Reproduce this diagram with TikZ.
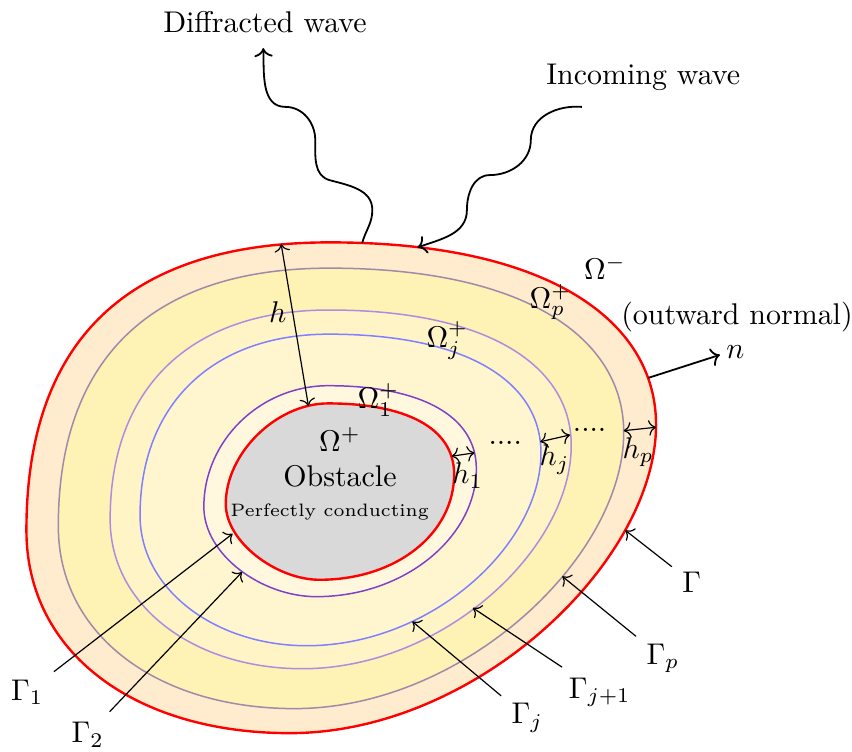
\documentclass[tikz,border=0pt]{standalone}
\usepackage{tikz}
\usetikzlibrary{arrows.meta,calc}
\definecolor{bandout}{HTML}{FFEBCD}
\definecolor{bandp}{HTML}{FFF2B5}
\definecolor{bandj}{HTML}{FFF4C6}
\definecolor{bandjj}{HTML}{FFF6D0}
\definecolor{bandone}{HTML}{FFF8DE}
\definecolor{linep}{HTML}{A08AA8}
\definecolor{linejj}{HTML}{B08CE0}
\definecolor{linej}{HTML}{8080FF}
\definecolor{linetwo}{HTML}{8040C8}
% closed curve through the 12 points #11 ... #112
\newcommand\ringpath[1]{(#11) .. controls (#12) and (#13) .. (#14)
  .. controls (#15) and (#16) .. (#17) .. controls (#18) and (#19) .. (#110)
  .. controls (#111) and (#112) .. cycle}
\begin{document}
\begin{tikzpicture}[
    bound/.style={draw=red, thick},
    layer/.style={line width=0.5pt},
    lab/.style={inner sep=1pt},
    arr/.style={->},
    dim/.style={<->},
    wave/.style={->, semithick}
  ]
  \useasboundingbox (0,0) rectangle (10,8.815);

  % outer boundary Gamma (o) and obstacle boundary Gamma_1 (i)
  \coordinate (o1) at (3.87,5.97);  \coordinate (i1) at (3.85,4.08);
  \coordinate (o2) at (6.47,5.97);  \coordinate (i2) at (4.75,4.08);
  \coordinate (o3) at (7.70,5.03);  \coordinate (i3) at (5.33,3.80);
  \coordinate (o4) at (7.70,3.83);  \coordinate (i4) at (5.33,3.25);
  \coordinate (o5) at (7.70,2.23);  \coordinate (i5) at (5.33,2.55);
  \coordinate (o6) at (5.60,0.21);  \coordinate (i6) at (4.65,2.01);
  \coordinate (o7) at (3.40,0.21);  \coordinate (i7) at (3.75,2.01);
  \coordinate (o8) at (1.60,0.21);  \coordinate (i8) at (3.25,2.01);
  \coordinate (o9) at (0.31,1.14);  \coordinate (i9) at (2.65,2.45);
  \coordinate (o10) at (0.31,2.59); \coordinate (i10) at (2.65,2.90);
  \coordinate (o11) at (0.31,4.79); \coordinate (i11) at (2.65,3.50);
  \coordinate (o12) at (1.47,5.97); \coordinate (i12) at (3.25,4.08);

  % the layers in between
  \foreach \n in {1,...,12} {
    \coordinate (p\n) at ($(o\n)!0.16!(i\n)$);
    \coordinate (k\n) at ($(o\n)!0.42!(i\n)$);
    \coordinate (j\n) at ($(o\n)!0.57!(i\n)$);
    \coordinate (s\n) at ($(o\n)!0.89!(i\n)$);
  }

  \draw[bound, fill=bandout] \ringpath{o};
  \draw[layer, draw=linep, fill=bandp] \ringpath{p};
  \draw[layer, draw=linejj, fill=bandj] \ringpath{k};
  \draw[layer, draw=linej, fill=bandjj] \ringpath{j};
  \draw[layer, draw=linetwo, fill=bandone] \ringpath{s};
  \draw[bound, fill=gray!30] \ringpath{i};

  % points on the curves
  \coordinate (tG)  at (7.34,2.59);
  \coordinate (tGp) at (6.60,2.05);
  \coordinate (tGk) at (5.55,1.68);
  \coordinate (tGj) at (4.84,1.52);
  \coordinate (tG2) at (2.84,2.10);
  \coordinate (tG1) at (2.73,2.55);
  \coordinate (nfoot) at (7.61,4.38);
  \coordinate (nhead) at (8.45,4.65);
  \coordinate (hout) at (3.30,5.95);
  \coordinate (hin)  at (3.62,4.05);
  \coordinate (difffoot) at (4.25,5.96);
  \coordinate (inctip) at (4.90,5.91);

  % texts
  \node (diff) at (3.11,8.56) {Diffracted wave};
  \node (inc)  at (7.55,7.91) {Incoming wave};
  \node[lab] (om)   at (7.10,5.67) {$\Omega^-$};
  \node[lab] (omp)  at (6.46,5.27) {$\Omega_p^+$};
  \node (normal) at (8.65,5.09) {(outward normal)};
  \node (nlab) at (8.63,4.68) {$n$};
  \node[lab] (omj)  at (5.25,4.82) {$\Omega_j^+$};
  \node[lab] (om1)  at (4.44,4.12) {$\Omega_1^+$};
  \node[lab] (ompl) at (3.99,3.66) {$\Omega^+$};
  \node[lab] (obst) at (3.99,3.22) {Obstacle};
  \node[font=\fontsize{6}{7}\selectfont] (perf) at (3.87,2.81) {Perfectly conducting};
  \node (hlab) at (3.26,5.15) {$h$};
  \node (h1lab) at (5.49,3.23) {$h_1$};
  \node (dotsa) at (5.93,3.62) {....};
  \node (hjlab) at (6.51,3.42) {$h_j$};
  \node (dotsb) at (6.92,3.77) {....};
  \node (hplab) at (7.49,3.51) {$h_p$};
  \node (gG)  at (8.12,1.98) {$\Gamma$};
  \node (gGp) at (7.78,1.09) {$\Gamma_p$};
  \node (gGk) at (7.04,0.69) {$\Gamma_{j+1}$};
  \node (gGj) at (6.19,0.39) {$\Gamma_j$};
  \node (gG1) at (0.32,0.69) {$\Gamma_1$};
  \node (gG2) at (1.03,0.19) {$\Gamma_2$};

  % connectors
  \draw[arr] (gG) -- (tG);
  \draw[arr] (gGp) -- (tGp);
  \draw[arr] (gGk) -- (tGk);
  \draw[arr] (gGj) -- (tGj);
  \draw[arr] (gG1) -- (tG1);
  \draw[arr] (gG2) -- (tG2);
  \draw[->, semithick] (nfoot) -- (nhead);
  \draw[dim] (hout) -- (hin);
  \draw[dim] (5.30,3.46) -- (5.57,3.50);
  \draw[dim] (6.34,3.63) -- (6.69,3.71);
  \draw[dim] (7.32,3.76) -- (7.70,3.80);

  % waves
  \draw[wave] (difffoot) to[out=75,in=-90] (4.37,6.35) to[out=90,in=-15] (3.87,6.70)
    to[out=165,in=-90] (3.70,7.17) to[out=90,in=0] (3.35,7.56) to[out=180,in=-88] (3.09,8.25);
  \draw[wave] (6.83,7.56) to[out=175,in=90] (6.23,7.17) to[out=-90,in=0] (5.75,6.76)
    to[out=180,in=90] (5.48,6.35) to[out=-90,in=20] (inctip);
\end{tikzpicture}
\end{document}
